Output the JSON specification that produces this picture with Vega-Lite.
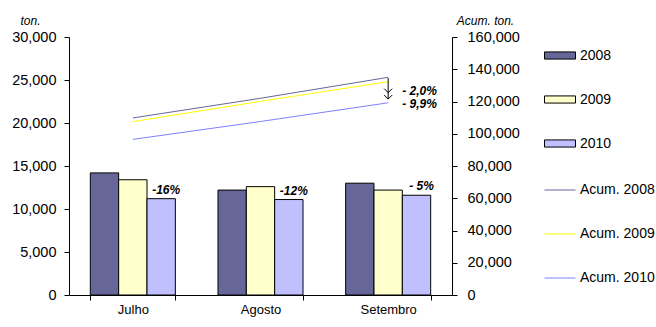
{
  "$schema": "https://vega.github.io/schema/vega-lite/v6.json",
  "width": 383,
  "height": 258,
  "autosize": {"type": "none"},
  "padding": {"left": 69, "top": 37, "right": 204, "bottom": 32},
  "config": {
    "view": {"stroke": null},
    "font": "Liberation Sans",
    "axis": {"domainColor": "#000000", "tickColor": "#000000", "labelColor": "#000000", "titleColor": "#000000", "grid": false, "labelFont": "Liberation Sans", "titleFont": "Liberation Sans", "labelOverlap": false},
    "legend": {"labelFont": "Liberation Sans", "labelColor": "#000000", "labelFontSize": 14, "padding": 0, "labelOffset": 4, "rowPadding": 21, "title": null}
  },
  "datasets": {
    "bars": [
      {"month": "Julho", "year": "2008", "ton": 14200},
      {"month": "Julho", "year": "2009", "ton": 13400},
      {"month": "Julho", "year": "2010", "ton": 11200},
      {"month": "Agosto", "year": "2008", "ton": 12200},
      {"month": "Agosto", "year": "2009", "ton": 12600},
      {"month": "Agosto", "year": "2010", "ton": 11100},
      {"month": "Setembro", "year": "2008", "ton": 13000},
      {"month": "Setembro", "year": "2009", "ton": 12200},
      {"month": "Setembro", "year": "2010", "ton": 11600}
    ],
    "barlabels": [
      {"month": "Julho", "year": "2010", "ton": 11200, "label": "-16%"},
      {"month": "Agosto", "year": "2010", "ton": 11100, "label": "-12%"},
      {"month": "Setembro", "year": "2010", "ton": 11600, "label": "- 5%"}
    ],
    "acum": [
      {"month": "Julho", "series": "Acum. 2008", "acum": 109800},
      {"month": "Agosto", "series": "Acum. 2008", "acum": 122000},
      {"month": "Setembro", "series": "Acum. 2008", "acum": 135000},
      {"month": "Julho", "series": "Acum. 2009", "acum": 107500},
      {"month": "Agosto", "series": "Acum. 2009", "acum": 120100},
      {"month": "Setembro", "series": "Acum. 2009", "acum": 132300},
      {"month": "Julho", "series": "Acum. 2010", "acum": 96500},
      {"month": "Agosto", "series": "Acum. 2010", "acum": 107600},
      {"month": "Setembro", "series": "Acum. 2010", "acum": 119200}
    ],
    "arrow": [
      {"month": "Setembro", "acum": 134500, "to": 121500}
    ],
    "heads": [
      {"month": "Setembro", "acum": 125500},
      {"month": "Setembro", "acum": 121500}
    ],
    "pct": [
      {"month": "Setembro", "acum": 126700, "label": "- 2,0%"},
      {"month": "Setembro", "acum": 118400, "label": "- 9,9%"}
    ]
  },
  "encoding": {
    "x": {
      "field": "month", "type": "nominal", "sort": ["Julho", "Agosto", "Setembro"],
      "scale": {"paddingInner": 0.334, "paddingOuter": 0.167},
      "axis": {"title": null, "labelAngle": 0, "labelFontSize": 13, "tickBand": "extent", "tickSize": 5, "labelPadding": 3, "domainWidth": 1}
    }
  },
  "layer": [
    {
      "encoding": {
        "y": {
          "field": "ton", "type": "quantitative",
          "scale": {"domain": [0, 30000]},
          "axis": {"values": [0, 5000, 10000, 15000, 20000, 25000, 30000], "format": ",.0f", "labelFontSize": 14.5, "tickSize": 5, "labelPadding": 8, "title": "ton.", "titleAngle": 0, "titleAlign": "center", "titleBaseline": "middle", "titleX": -39, "titleY": -17, "titleFontSize": 12, "titleFontWeight": "normal", "titleFontStyle": "italic"}
        }
      },
      "layer": [
        {
          "data": {"name": "bars"},
          "mark": {"type": "bar", "stroke": "#000000", "strokeWidth": 1},
          "encoding": {
            "xOffset": {"field": "year", "type": "nominal", "scale": {"paddingInner": 0, "paddingOuter": 0}},
            "fill": {
              "field": "year", "type": "nominal",
              "scale": {"domain": ["2008", "2009", "2010"], "range": ["#666699", "#FFFFCC", "#C0C0FF"]},
              "legend": {"orient": "none", "legendX": 475, "legendY": 2.5, "symbolType": "M-1,-0.23H1V0.23H-1Z", "symbolSize": 961, "symbolStrokeColor": "#000000", "symbolStrokeWidth": 1, "symbolOpacity": 1}
            }
          }
        },
        {
          "data": {"name": "barlabels"},
          "mark": {"type": "text", "fontWeight": "bold", "fontStyle": "italic", "fontSize": 12, "baseline": "bottom", "dy": -2, "dx": 5, "color": "#000000"},
          "encoding": {
            "xOffset": {"field": "year", "type": "nominal", "scale": {"domain": ["2008", "2009", "2010"]}},
            "text": {"field": "label"}
          }
        }
      ]
    },
    {
      "encoding": {
        "y": {
          "field": "acum", "type": "quantitative",
          "scale": {"domain": [0, 160000]},
          "axis": {"orient": "right", "values": [0, 20000, 40000, 60000, 80000, 100000, 120000, 140000, 160000], "format": ",.0f", "labelFontSize": 14.5, "tickSize": 5, "labelPadding": 10, "title": "Acum. ton.", "titleAngle": 0, "titleAlign": "center", "titleBaseline": "middle", "titleX": 33, "titleY": -17, "titleFontSize": 12, "titleFontWeight": "normal", "titleFontStyle": "italic"}
        }
      },
      "layer": [
        {
          "data": {"name": "acum"},
          "mark": {"type": "line", "strokeWidth": 1},
          "encoding": {
            "stroke": {
              "field": "series", "type": "nominal",
              "scale": {"domain": ["Acum. 2008", "Acum. 2009", "Acum. 2010"], "range": ["#666699", "#FFFF00", "#8080FF"]},
              "legend": {"orient": "none", "legendX": 475, "legendY": 137, "symbolType": "stroke", "symbolSize": 961, "symbolStrokeWidth": 1}
            }
          }
        },
        {
          "data": {"name": "arrow"},
          "mark": {"type": "rule", "color": "#000000", "strokeWidth": 1},
          "encoding": {
            "y2": {"field": "to"}
          }
        },
        {
          "data": {"name": "heads"},
          "mark": {"type": "point", "shape": "M-1,-1L0,0L1,-1", "filled": false, "stroke": "#000000", "strokeWidth": 1, "size": 64, "opacity": 1},
          "encoding": {}
        },
        {
          "data": {"name": "pct"},
          "mark": {"type": "text", "fontWeight": "bold", "fontStyle": "italic", "fontSize": 12, "align": "left", "baseline": "middle", "dx": 14, "color": "#000000"},
          "encoding": {
            "text": {"field": "label"}
          }
        }
      ]
    }
  ],
  "resolve": {"scale": {"y": "independent"}}
}
